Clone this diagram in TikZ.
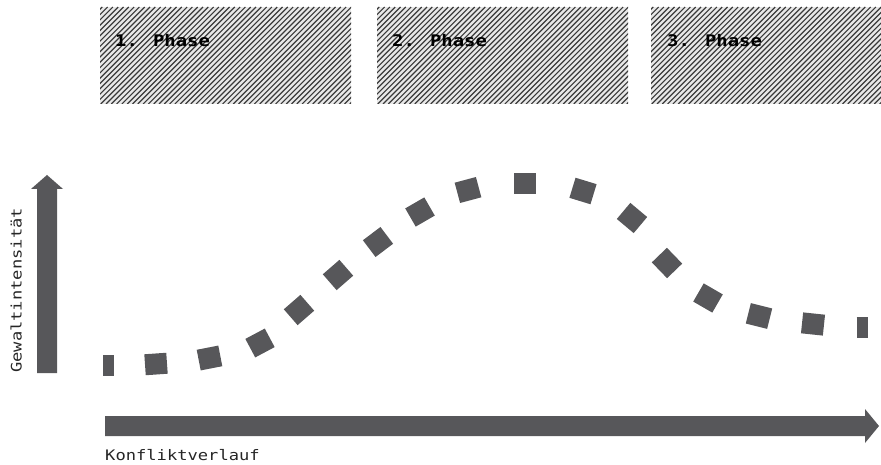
\documentclass[tikz,border=0pt]{standalone}
\usepackage{fontspec}
\newfontfamily\monof[FakeStretch=1.18]{DejaVu Sans Mono}
\definecolor{darkg}{HTML}{57575A}
\definecolor{hatchbg}{HTML}{E8E8E8}
\definecolor{hatchln}{HTML}{3A3A3A}
\tikzset{
  phaselabel/.style={anchor=base west, inner sep=0pt, font=\monof\bfseries\fontsize{16}{18}\selectfont, text=black},
  axislabel/.style={anchor=base west, inner sep=0pt, font=\monof\fontsize{14.5}{17}\selectfont, text=black!85},
  dashseg/.style={draw=darkg, line width=21pt},
  arrowbody/.style={fill=darkg}
}
\newcommand{\hatchbox}[2]{%
  \begin{scope}
    \clip (#1,7) rectangle (#2,104);
    \fill[hatchbg] (#1,7) rectangle (#2,104);
    \foreach \k in {0,...,70}{
      \draw[hatchln, line width=1.15pt] ({#1-100+\k*5.3},104) -- ({#1-100+\k*5.3+97},7);
    }
  \end{scope}}
\begin{document}
\begin{tikzpicture}[x=1pt,y=-1pt]
\useasboundingbox (0,0) rectangle (881,465);
% phase boxes
\hatchbox{100}{351}
\hatchbox{377}{628}
\hatchbox{651}{881}
\node[phaselabel] (p1) at (115,46.5) {1. Phase};
\node[phaselabel] (p2) at (392,46.5) {2. Phase};
\node[phaselabel] (p3) at (667,46.5) {3. Phase};
% vertical axis arrow
\fill[arrowbody] (37,373) -- (37,189) -- (31,189) -- (47,175) -- (63,189) -- (57,189) -- (57,373) -- cycle;
\node[axislabel, rotate=90] (ylab) at (21.5,373) {Gewaltintensität};
% horizontal axis arrow
\fill[arrowbody] (105,416) -- (865,416) -- (865,409) -- (879,426) -- (865,443) -- (865,436) -- (105,436) -- cycle;
\node[axislabel] (xlab) at (105,460.5) {Konfliktverlauf};
% dashed intensity curve (one dash per segment)
\draw[dashseg] (103,365) -- (114,365);
\foreach \cx/\cy/\ang in {
  156/364/-4, 209.5/358/-11, 260/343/-28, 299/310/-41, 338/275/-41,
  378/242/-37, 420/212/-30, 468/190/-15, 525/184/0, 583/191/17,
  632/218/40, 667/263/46, 708/298/30, 759/316/14, 813/324/6}{
  \draw[dashseg] (\cx,\cy) ++(\ang:-11) -- ++(\ang:22);
}
\draw[dashseg] (856.5,327) -- (867.5,327);
\end{tikzpicture}
\end{document}
